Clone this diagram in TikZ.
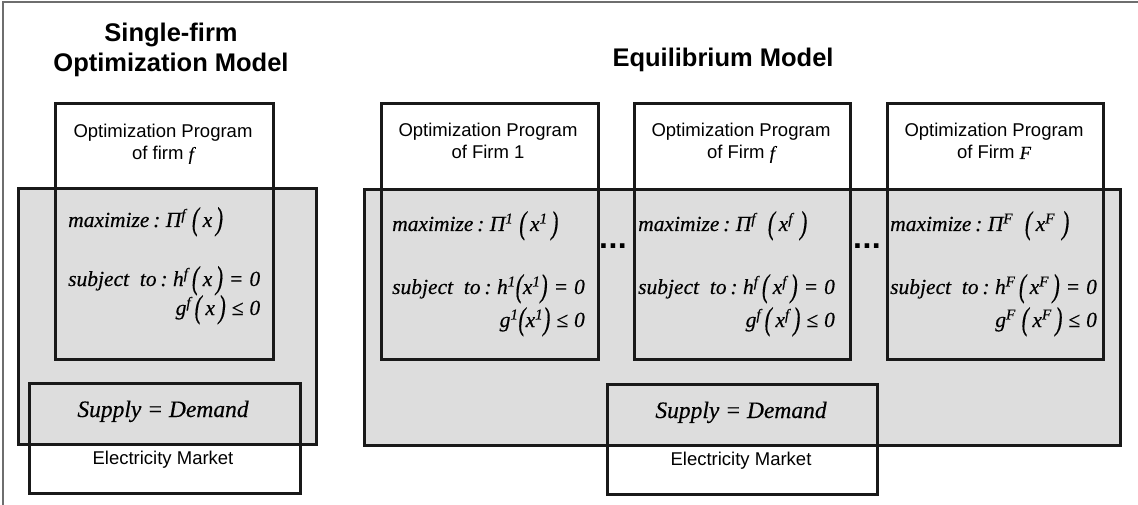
\documentclass[tikz,border=0pt]{standalone}
\usepackage{fontspec}
\usepackage{graphicx}
\setmainfont{Liberation Sans}
\newfontface\eqfont[FakeBold=0.35]{Liberation Serif Italic}
\usetikzlibrary{calc}

% tall parentheses and superscripts for the programme formulas
\newcommand\lpar{\raisebox{-0.12em}{\scalebox{1}[1.5]{(}}}
\newcommand\rpar{\raisebox{-0.12em}{\scalebox{1}[1.5]{)}}}
\newcommand\spr[1]{\textsuperscript{#1}}
\newcommand\colsp{\hspace{0.18em}:\hspace{0.25em}}

\definecolor{boxgray}{RGB}{221,221,221}
\definecolor{framegray}{RGB}{110,110,110}

\tikzset{
  outline/.style={draw=black!90, line width=2.8pt, inner sep=0, anchor=north west},
  shaded/.style={outline, fill=boxgray},
  ttl/.style={font=\fontsize{25.5}{30}\selectfont\bfseries, inner sep=0, anchor=base},
  lbl/.style={font=\fontsize{18.5}{22}\selectfont, inner sep=0, anchor=base},
  eq/.style={font=\eqfont\fontsize{21.5}{24}\selectfont, inner sep=0},
  sd/.style={font=\eqfont\fontsize{23.5}{28}\selectfont, inner sep=0, anchor=base},
  dotsnode/.style={font=\fontsize{32}{32}\selectfont\bfseries, inner sep=0, anchor=base},
}

\begin{document}
\begin{tikzpicture}[x=1pt, y=-1pt]
\useasboundingbox (0,0) rectangle (1138,505);
\fill[white] (0,0) rectangle (1138,505);
\draw[framegray, line width=2.4pt] (3,505) -- (3,2) -- (1138,2);

% ---------- single-firm optimization model ----------
\node[ttl] (titleL) at (171,42) {\begin{tabular}[t]{@{}c@{}}Single-firm\\Optimization Model\end{tabular}};

\node[shaded, minimum width=298, minimum height=256] (grayL) at (17,187) {};
\node[outline, minimum width=218, minimum height=256] (progL) at (54,102) {};
\node[outline, minimum width=271, minimum height=110] (mktL) at (28,382) {};

\node[lbl] (progLtxt) at (163,138) {\begin{tabular}[t]{@{}c@{}}Optimization Program\\of firm {\eqfont f}\end{tabular}};
\node[eq, anchor=base west] (mxL) at (68,227) {maximize\colsp Π\spr{f}\;\lpar\,x\,\rpar};
\node[eq, anchor=base west] (stL) at (68,286) {subject\ \ to\colsp h\spr{f}\,\lpar\,x\,\rpar\;=\;0};
\node[eq, anchor=base east] (gL) at ($(stL.base east)+(0,29)$) {g\spr{f}\,\lpar\,x\,\rpar\;≤\;0};

\node[sd] (sdL) at (163,417) {Supply = Demand};
\node[lbl] (mktLtxt) at (163,464) {Electricity Market};

% ---------- equilibrium model ----------
\node[ttl] (titleR) at (723,67) {Equilibrium Model};

\node[shaded, minimum width=756, minimum height=256] (grayR) at (363,188) {};
\node[outline, minimum width=217, minimum height=256] (prog1) at (380,102) {};
\node[outline, minimum width=216, minimum height=256] (progf) at (633,102) {};
\node[outline, minimum width=216, minimum height=256] (progF) at (886,102) {};
\node[outline, minimum width=270, minimum height=110] (mktR) at (606,383) {};

\node[lbl] (prog1txt) at (488,137) {\begin{tabular}[t]{@{}c@{}}Optimization Program\\of Firm 1\end{tabular}};
\node[lbl] (progftxt) at (741,137) {\begin{tabular}[t]{@{}c@{}}Optimization Program\\of Firm {\eqfont f}\end{tabular}};
\node[lbl] (progFtxt) at (994,137) {\begin{tabular}[t]{@{}c@{}}Optimization Program\\of Firm {\eqfont F}\end{tabular}};

\node[eq, anchor=base west] (mx1) at (392,231) {maximize\colsp Π\spr{1}\;\lpar\,x\spr{1}\,\rpar};
\node[eq, anchor=base west] (st1) at (392,294) {subject\ \ to\colsp h\spr{1}\lpar x\spr{1}\rpar\;=\;0};
\node[eq, anchor=base east] (g1) at ($(st1.base east)+(0,33)$) {g\spr{1}\lpar x\spr{1}\rpar\;≤\;0};

\node[eq, anchor=base west] (mxf) at (638,231) {maximize\colsp Π\spr{f}\;\;\lpar\,x\spr{f}\,\,\rpar};
\node[eq, anchor=base west] (stf) at (638,294) {subject\ \ to\colsp h\spr{f}\,\lpar\,x\spr{f}\,\rpar\;=\;0};
\node[eq, anchor=base east] (gf) at ($(stf.base east)+(0,33)$) {g\spr{f}\,\lpar\,x\spr{f}\,\rpar\;≤\;0};

\node[eq, anchor=base west] (mxF) at (890,231) {maximize\colsp Π\spr{F}\;\;\lpar\,x\spr{F}\,\,\rpar};
\node[eq, anchor=base west] (stF) at (890,294) {subject\ \ to\colsp h\spr{F}\,\lpar\,x\spr{F}\,\rpar\;=\;0};
\node[eq, anchor=base east] (gF) at ($(stF.base east)+(0,33)$) {g\spr{F}\;\lpar\,x\spr{F}\,\rpar\;≤\;0};

\node[dotsnode] (dots1) at (613,248) {.\kern0.5pt.\kern0.5pt.};
\node[dotsnode] (dots2) at (867,248) {.\kern0.5pt.\kern0.5pt.};

\node[sd] (sdR) at (741,418) {Supply = Demand};
\node[lbl] (mktRtxt) at (741,465) {Electricity Market};
\end{tikzpicture}
\end{document}
